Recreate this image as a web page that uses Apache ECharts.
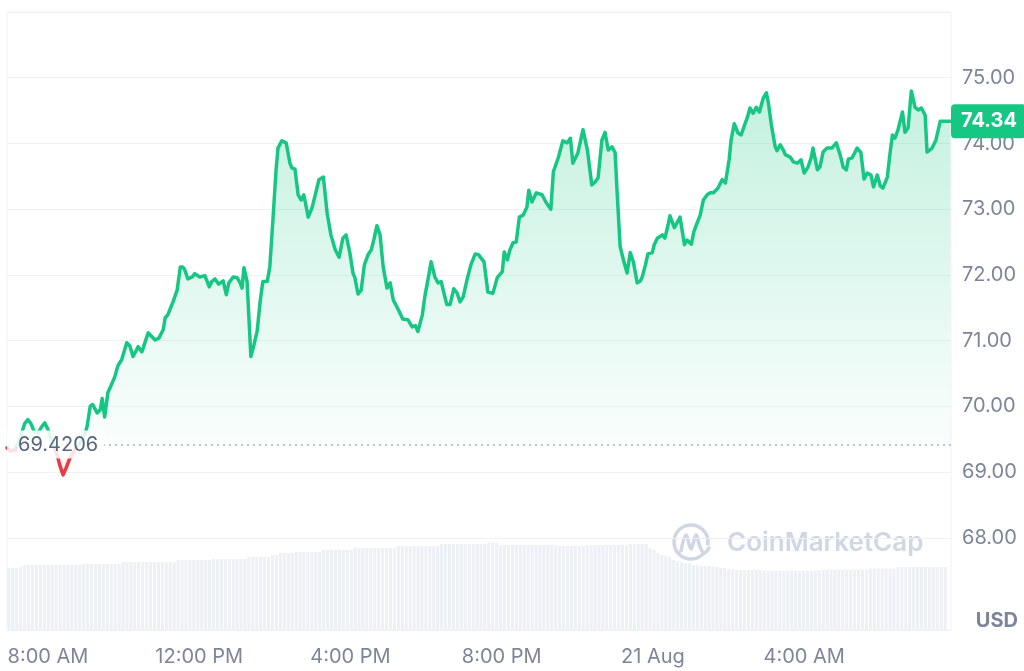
<!DOCTYPE html>
<html>
<head>
<meta charset="utf-8">
<script src="https://cdn.jsdelivr.net/npm/echarts@6/dist/echarts.min.js"></script>
<style>
  html, body { margin: 0; padding: 0; background: #ffffff; }
  #chart { width: 1024px; height: 671px; }
</style>
</head>
<body>
<div id="chart"></div>
<script>
// ---- data ----
// minutes since 00:00 on 20 Aug
const priceTimes = [415,420,428,436,443,448,453,458,464,470,475,480,486,493,499,504,509,515,523,531,
539,542,547,551,558,563,566,570,575,582,586,591,597,605,610,615,620,623,629,639,
645,650,656,663,666,670,678,685,690,694,697,702,709,713,721,729,736,740,745,751,
758,763,767,774,780,785,788,791,796,802,807,812,817,821,828,832,837,842,845,851,
858,864,867,872,877,882,886,893,899,905,910,917,923,929,936,942,948,953,959,964,
967,972,977,982,988,993,997,1002,1007,1012,1018,1023,1028,1036,1043,1051,1058,1063,1067,1074,
1078,1083,1088,1094,1099,1104,1109,1113,1118,1124,1129,1134,1139,1145,1151,1158,1163,1167,1172,1178,
1186,1193,1201,1204,1209,1213,1218,1223,1228,1234,1240,1243,1248,1255,1264,1270,1278,1282,1290,1297,
1304,1309,1313,1321,1329,1336,1343,1348,1353,1359,1364,1369,1375,1380,1383,1388,1394,1399,1404,1409,
1415,1420,1423,1428,1432,1439,1442,1447,1455,1459,1464,1467,1474,1478,1483,1490,1494,1501,1505,1510,
1515,1520,1526,1531,1536,1543,1550,1555,1561,1564,1569,1575,1580,1585,1590,1594,1599,1604,1609,1615,
1620,1623,1628,1634,1637,1642,1647,1650,1658,1663,1669,1675,1680,1686,1691,1694,1701,1705,1710,1716,
1724,1731,1737,1742,1747,1750,1756,1764,1770,1775,1780,1786,1790,1796,1801,1805,1812,1816,1820,1824,
1829,1836,1840,1845,1850,1856,1861,1866,1872,1875,1883,1889,1896,1904,1912];

const prices = [69.37,69.32,69.34,69.52,69.74,69.80,69.74,69.62,69.59,69.69,69.75,69.65,69.49,69.31,69.10,68.96,69.07,69.22,69.34,69.45,
69.59,69.69,70.00,70.03,69.90,69.95,70.12,69.84,70.21,70.36,70.45,70.62,70.71,70.97,70.92,70.76,70.85,70.91,70.83,71.12,
71.06,71.01,71.04,71.17,71.35,71.39,71.58,71.77,72.12,72.12,72.08,71.94,71.97,72.02,71.97,71.99,71.82,71.90,71.94,71.86,
71.91,71.70,71.88,71.97,71.96,71.88,71.80,72.11,71.90,70.76,70.94,71.15,71.62,71.90,71.90,72.12,72.84,73.60,73.93,74.04,
74.01,73.70,73.63,73.61,73.22,73.14,73.22,72.88,73.02,73.25,73.45,73.49,72.94,72.61,72.38,72.27,72.56,72.61,72.34,72.03,
71.96,71.71,71.77,72.15,72.31,72.38,72.53,72.75,72.61,72.12,71.80,71.88,71.62,71.47,71.33,71.32,71.21,71.23,71.14,71.39,
71.67,71.93,72.20,71.97,71.88,71.90,71.70,71.55,71.55,71.79,71.73,71.59,71.67,71.93,72.15,72.32,72.31,72.26,72.20,71.74,
71.72,71.96,72.05,72.35,72.23,72.38,72.49,72.50,72.88,72.91,73.03,73.29,73.11,73.25,73.22,73.11,73.00,73.57,73.79,74.04,
74.01,74.08,73.70,73.86,74.21,73.90,73.37,73.41,73.48,74.05,74.17,73.90,73.95,73.86,73.29,72.43,72.20,72.03,72.34,72.20,
71.88,71.91,71.97,72.15,72.32,72.34,72.46,72.56,72.61,72.56,72.76,72.90,72.72,72.79,72.88,72.46,72.53,72.47,72.66,72.79,
72.91,73.14,73.22,73.25,73.25,73.32,73.45,73.40,73.76,74.05,74.30,74.16,74.13,74.27,74.40,74.54,74.46,74.55,74.48,74.69,
74.77,74.63,74.28,73.95,73.89,73.98,73.90,73.83,73.79,73.72,73.70,73.75,73.55,73.64,73.78,73.93,73.60,73.64,73.87,73.93,
73.93,74.01,73.83,73.64,73.60,73.76,73.78,73.93,73.86,73.46,73.55,73.52,73.34,73.52,73.35,73.32,73.49,73.83,74.13,74.08,
74.21,74.48,74.17,74.24,74.80,74.55,74.51,74.54,74.43,73.87,73.93,74.05,74.34,74.34,74.34];

// rolling volume bars (relative units)
const volumes = [62,62,62,63,
65,65,65,65,65,65,65,65,65,65,65,65,65,65,65,
66,66,66,66,66,66,66,66,66,66,
68,68,68,68,68,68,68,68,68,68,68,68,68,68,
70,70,70,70,70,70,70,70,70,
71,71,71,71,71,71,71,71,71,
73,73,73,73,73,73,
75,75,
77,77,77,77,
78,78,78,78,78,78,78,
80,80,80,80,80,80,80,80,
82,82,82,82,82,82,82,82,82,82,82,
84,84,84,84,84,84,84,84,84,84,84,
86,86,86,86,86,86,86,86,86,86,86,86,
87.5,87.5,87.5,
85,85,85,85,85,85,85,85,85,85,85,85,85,85,85,
84,84,84,84,84,84,84,
85,85,85,85,85,85,85,85,85,85,85,
86,86,86,86,86,
82,80,
77,75,74,73,
70,69,68,67,67,
65,65,64,64,64,63,63,62,62,
61,61,60,60,60,60,60,60,60,
59.5,59.5,59.5,59.5,59.5,59.5,59.5,59.5,59.5,59.5,59.5,59.5,59.5,59.5,59.5,
60.5,60.5,60.5,60.5,60.5,60.5,60.5,60.5,60.5,60.5,60.5,60.5,
61.5,61.5,61.5,61.5,61.5,61.5,61.5,
63,63,63,63,63,63,63,63,63,63,63,63,63,
'-'];

const openPrice = 69.4206;
const lastPrice = 74.34;

const tickMinutes = [480, 720, 960, 1200, 1440, 1680];
const tickLabels = ['8:00 AM', '12:00 PM', '4:00 PM', '8:00 PM', '21 Aug', '4:00 AM'];
const priceLabels = [68, 69, 70, 71, 72, 73, 74, 75];

// ---- chart ----
const GREEN = '#16c784';
const RED = '#ea3943';
const LABEL = '#7d8699';
const GRID = '#eff2f5';
const FONT = 'Inter, "Noto Sans", sans-serif';

const pricePoints = priceTimes.map((t, i) => [t, prices[i]]);
const volSlots = volumes.map((_, i) => i);

const maxP = Math.max(...prices), minP = Math.min(...prices);
const baseOff = (maxP - openPrice) / (maxP - minP);

const splitColors = [GRID, 'rgba(0,0,0,0)'];
for (let i = 0; i < 12; i++) splitColors.push(GRID);

const chart = echarts.init(document.getElementById('chart'), null, { renderer: 'canvas' });

chart.setOption({
  animation: false,
  backgroundColor: '#ffffff',
  textStyle: { fontFamily: FONT },
  grid: [
    { left: 7, right: 73, top: 12, bottom: 41, show: true, borderColor: GRID, borderWidth: 1, backgroundColor: 'transparent' },
    { left: 7, right: 73, top: 530, bottom: 41 }
  ],
  xAxis: [
    {
      type: 'value', gridIndex: 0, min: 415, max: 1913,
      axisLine: { show: false }, axisTick: { show: false }, splitLine: { show: false },
      axisLabel: {
        customValues: tickMinutes,
        formatter: v => { const k = tickMinutes.indexOf(Math.round(v)); return k >= 0 ? tickLabels[k] : ''; },
        margin: 17, fontSize: 20, color: LABEL, fontFamily: FONT
      }
    },
    {
      type: 'category', gridIndex: 1, data: volSlots, show: false,
      axisLine: { show: false }, axisTick: { show: false }, axisLabel: { show: false }
    }
  ],
  yAxis: [
    {
      type: 'value', gridIndex: 0, position: 'right', min: 66.6, max: 76,
      minInterval: 1, maxInterval: 1,
      axisLine: { show: false }, axisTick: { show: false },
      splitLine: { show: true, lineStyle: { color: splitColors, width: 1 } },
      axisLabel: {
        margin: 11, fontSize: 20, color: LABEL, fontFamily: FONT,
        formatter: v => {
          const r = Math.round(v);
          return (Math.abs(v - r) < 1e-6 && priceLabels.indexOf(r) >= 0) ? r.toFixed(2) : '';
        }
      }
    },
    { type: 'value', gridIndex: 1, min: 0, max: 100, show: false, splitLine: { show: false } }
  ],
  series: [
    {
      type: 'bar',
      xAxisIndex: 1, yAxisIndex: 1,
      data: volumes,
      silent: true,
      z: 1,
      barCategoryGap: '22%',
      itemStyle: { color: '#edf0f5' }
    },
    {
      type: 'line',
      xAxisIndex: 0, yAxisIndex: 0,
      data: pricePoints,
      symbol: 'none',
      smooth: false,
      z: 3,
      lineStyle: {
        width: 3.5, join: 'round', cap: 'round',
        color: new echarts.graphic.LinearGradient(0, 0, 0, 1, [
          { offset: 0, color: GREEN },
          { offset: baseOff, color: GREEN },
          { offset: baseOff, color: RED },
          { offset: 1, color: RED }
        ])
      },
      areaStyle: {
        origin: openPrice,
        color: new echarts.graphic.LinearGradient(0, 0, 0, 1, [
          { offset: 0, color: 'rgba(22,199,132,0.36)' },
          { offset: baseOff, color: 'rgba(22,199,132,0.03)' },
          { offset: baseOff, color: 'rgba(234,57,67,0.03)' },
          { offset: 1, color: 'rgba(234,57,67,0.12)' }
        ])
      },
      markLine: {
        silent: true,
        symbol: 'none',
        animation: false,
        data: [
          {
            yAxis: openPrice,
            lineStyle: { color: '#a7b1c2', type: [2, 4], width: 1.5 },
            label: {
              show: true, position: 'insideStart', distance: 0,
              formatter: () => openPrice.toFixed(4),
              fontSize: 20, color: '#58667e', fontFamily: FONT,
              backgroundColor: 'rgba(255,255,255,0.85)',
              padding: [4, 6, 4, 11]
            }
          },
          {
            yAxis: lastPrice,
            lineStyle: { color: 'rgba(0,0,0,0)', width: 1 },
            label: {
              show: true, position: 'end', distance: 0,
              formatter: () => lastPrice.toFixed(2),
              fontSize: 20, fontWeight: 'bold', color: '#ffffff', fontFamily: FONT,
              backgroundColor: GREEN, borderRadius: 4,
              padding: [7, 9, 7, 10]
            }
          }
        ]
      }
    }
  ],
  graphic: [
    {
      type: 'text', z: 50, silent: true,
      style: { text: 'USD', x: 1018, y: 621, align: 'right', verticalAlign: 'middle',
               font: 'bold 20px ' + FONT, fill: LABEL }
    },
    {
      type: 'group', z: 40, silent: true,
      children: [
        { type: 'arc', shape: { cx: 691, cy: 542, r: 17, startAngle: 0.75, endAngle: 0.2, clockwise: true },
          style: { stroke: '#cfd6e4', lineWidth: 3.5, fill: 'none' } },
        { type: 'polyline', shape: { points: [[681, 551], [686, 535], [691, 549], [696, 535], [700, 547], [704, 553], [709, 548]], smooth: 0.35 },
          style: { stroke: '#cfd6e4', lineWidth: 3.5, fill: 'none', lineCap: 'round', lineJoin: 'round' } },
        { type: 'text',
          style: { text: 'CoinMarketCap', x: 727, y: 543, align: 'left', verticalAlign: 'middle',
                   font: '600 26px ' + FONT, fill: '#cfd6e4' } }
      ]
    }
  ]
});
</script>
</body>
</html>
